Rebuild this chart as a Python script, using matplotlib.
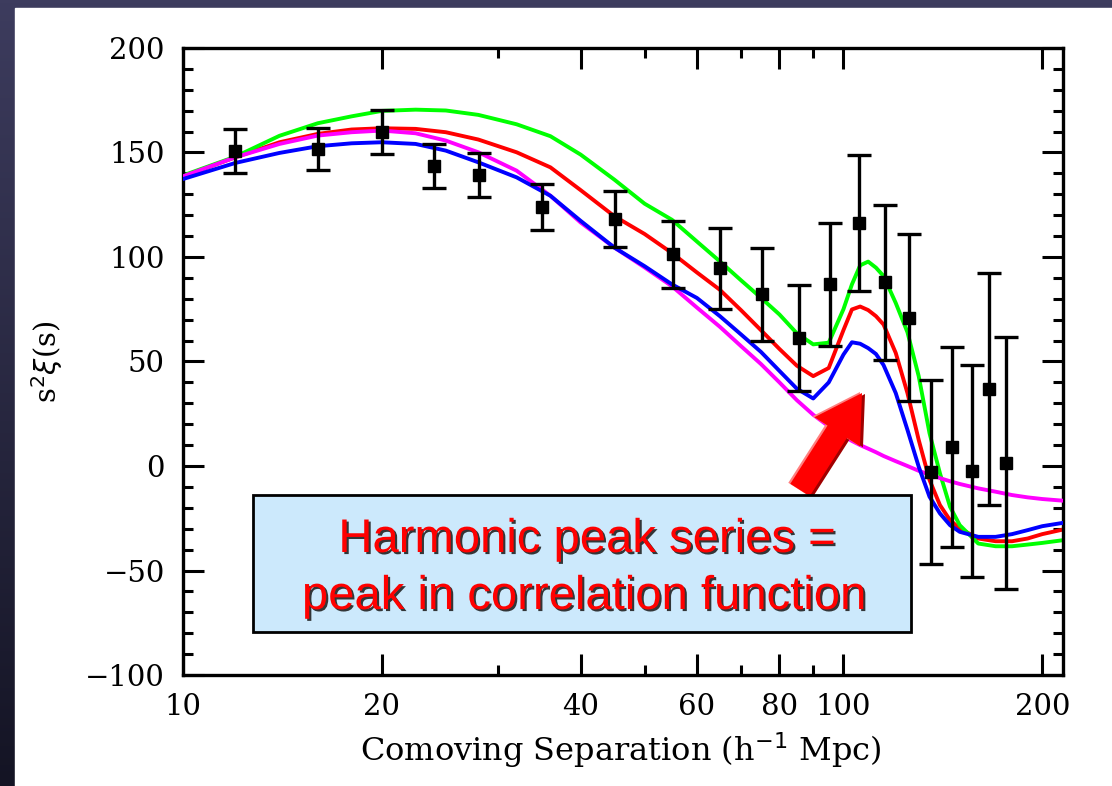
import matplotlib
matplotlib.use("Agg")
import matplotlib.pyplot as plt
import matplotlib.patches as mpatches
import matplotlib.patheffects as pe
from matplotlib.transforms import IdentityTransform
import numpy as np

# model curves, s in h^-1 Mpc
s_model = [10, 12, 14, 16, 18, 20, 22.5, 25, 28, 32, 36, 40, 45, 50, 55, 60, 65, 70, 75, 80,
           85, 90, 95, 100, 103, 106, 109, 112, 115, 120, 125, 130, 135, 140, 145, 150,
           160, 170, 180, 190, 200, 215]
xi_green = [139, 148, 158, 164, 167.3, 169.9, 170.5, 170.1, 168, 163.5, 157.8, 149, 137, 125.5,
            117.8, 107.4, 97.9, 88.8, 80.5, 72.5, 63.5, 58.2, 59, 75, 86.9, 96, 97.8, 94.9,
            90.9, 78, 64, 43, 15.7, -3.5, -19.5, -28.3, -37.1, -38.4, -38.4, -37.6, -36.8, -35.5]
xi_red = [138.6, 147.7, 154.9, 158.9, 161.0, 161.6, 161.3, 159.7, 156.2, 150.1, 142.9, 132,
          119.5, 111, 101.9, 92.6, 84.3, 74.5, 65, 56, 48, 43, 46.9, 65, 74.9, 76.3, 74.6,
          71.7, 67.7, 54.1, 34.9, 12.5, -6.7, -18.7, -25.9, -29.9, -34.7, -36, -36, -34.7,
          -32.6, -30.4]
xi_magenta = [138.6, 147.7, 154.1, 158.1, 159.7, 160.5, 159.2, 155.7, 150.1, 141.3, 129.3, 116.5,
              104.5, 95, 86, 75.8, 66.6, 57.3, 48.8, 40, 31.5, 24.5, 19, 14.5, 12, 10, 8.3,
              6.6, 4.8, 2.3, 0, -2.3, -4.1, -5.8, -7.3, -8.6, -10.7, -12.3, -13.9, -15, -15.8,
              -16.6]
xi_blue = [137.3, 145, 149.8, 153, 154.4, 154.9, 154.1, 150.9, 145.3, 138.1, 129.3, 117.3, 104.5,
           95.6, 86.9, 80.4, 71.7, 62.9, 54.6, 45.5, 37, 32.3, 40, 53.3, 59.2, 58.5, 56.4, 53.6,
           48.3, 34.9, 17.3, -0.3, -14.7, -22.7, -28.3, -31.5, -33.9, -33.9, -32.6, -30.7,
           -28.8, -27.2]

# measured points
s_data = [12.0, 16.0, 20.0, 24.0, 28.1, 35.0, 45.1, 55.2, 65.1, 75.4, 85.5, 95.5, 105.7,
          115.4, 125.5, 135.9, 145.8, 156.3, 165.9, 176.1]
xi_data = [150.8, 151.7, 160, 143.4, 139.2, 123.9, 118.1, 101.3, 94.6, 82.1, 61.4, 86.9, 116.2,
           87.9, 71.0, -2.7, 9.0, -2.4, 36.8, 1.3]
xi_err = [10.4, 10, 10.5, 10.6, 10.7, 11, 13.3, 16, 19.4, 22.3, 25.4, 29.3, 32.5, 37, 40, 44,
          47.9, 50.6, 55.6, 60.2]

x_major = [10, 20, 40, 60, 80, 100, 200]
x_minor = [30, 50, 70, 90]

W, H = 1112, 786
fig = plt.figure(figsize=(W / 100, H / 100), dpi=100)

# dark slide background with a white panel
bg = fig.add_axes([0, 0, 1, 1], zorder=-10)
grad = np.linspace(0, 1, 256).reshape(-1, 1)
top = np.array([0x3d, 0x3c, 0x5e]) / 255
bot = np.array([0x14, 0x14, 0x24]) / 255
img = top[None, None, :] * (1 - grad[:, :, None]) + bot[None, None, :] * grad[:, :, None]
bg.imshow(img, aspect="auto", extent=[0, 1, 0, 1])
bg.add_patch(mpatches.Rectangle((15 / W, 0), 1, (H - 8) / H, color="white"))
bg.set_xlim(0, 1)
bg.set_ylim(0, 1)
bg.axis("off")

ax = fig.add_axes([183 / W, 111 / H, 880 / W, 627 / H])
ax.set_xscale("log")

lw = 2.8
ax.plot(s_model, xi_red, color="#ff0000", lw=lw, zorder=2)
ax.plot(s_model, xi_green, color="#00ff00", lw=lw, zorder=2)
ax.plot(s_model, xi_magenta, color="#ff00ff", lw=lw, zorder=3)
ax.plot(s_model, xi_blue, color="#0000ff", lw=lw, zorder=3)
ax.errorbar(s_data, xi_data, yerr=xi_err, fmt="s", color="black", ms=8.5, elinewidth=2.4,
            capsize=8.5, capthick=2.4, zorder=5)

ax.set_xlim(10, 215)
ax.set_ylim(-100, 200)

serif = "DejaVu Serif"
fs = 21
ax.set_xticks(x_major)
ax.set_xticklabels([str(v) for v in x_major], family=serif, fontsize=fs)
ax.set_xticks(x_minor, minor=True)
ax.set_xticklabels([], minor=True)
ax.set_yticks(np.arange(-100, 201, 50))
ax.set_yticklabels(["\u2212100", "\u221250", "0", "50", "100", "150", "200"],
                   family=serif, fontsize=fs)
ax.set_yticks(np.arange(-100, 201, 10), minor=True)
ax.tick_params(which="both", direction="in", top=True, right=True, width=2.2, color="black")
ax.tick_params(which="major", length=15, pad=13)
ax.tick_params(which="minor", length=7.5)
for sp in ax.spines.values():
    sp.set_linewidth(2.4)

plt.rcParams["mathtext.fontset"] = "dejavuserif"
ax.set_xlabel("Comoving Separation (h$^{-1}$ Mpc)", family=serif, fontsize=23)
ax.xaxis.set_label_coords(0.497, -0.088)
ax.set_ylabel(r"s$^2\xi$(s)", family=serif, fontsize=fs)
ax.yaxis.set_label_coords(-0.134, 0.5)

# annotation box
fig.add_artist(mpatches.Rectangle((253 / W, (H - 632) / H), 658 / W, 137 / H,
                                  transform=fig.transFigure, facecolor="#cce9fc",
                                  edgecolor="black", lw=2, zorder=10))
shadow = [pe.withSimplePatchShadow(offset=(1.5, -1.5), shadow_rgbFace="#222222", alpha=0.9)]
fig.text(587 / W, (H - 540) / H, "Harmonic peak series =", ha="center", va="center",
         color="#ff0000", family="Liberation Sans", fontsize=34, zorder=11, path_effects=shadow)
fig.text(584 / W, (H - 597) / H, "peak in correlation function", ha="center", va="center",
         color="#ff0000", family="Liberation Sans", fontsize=34, zorder=11, path_effects=shadow)

# block arrow pointing at the peak
tail = (800, H - 490)
tip = (862, H - 393)
d = (tip[0] - tail[0], tip[1] - tail[1])
for off, col in [((3, -1), "#a00000"), ((-2, 1), "#ff8080"), ((0, 0), "#ff0000")]:
    fig.add_artist(mpatches.FancyArrow(tail[0] + off[0], tail[1] + off[1], d[0], d[1],
                                       width=23, head_width=54, head_length=46,
                                       length_includes_head=True, color=col, lw=0,
                                       transform=IdentityTransform(), zorder=9))

fig.savefig("out.png", dpi=100)
